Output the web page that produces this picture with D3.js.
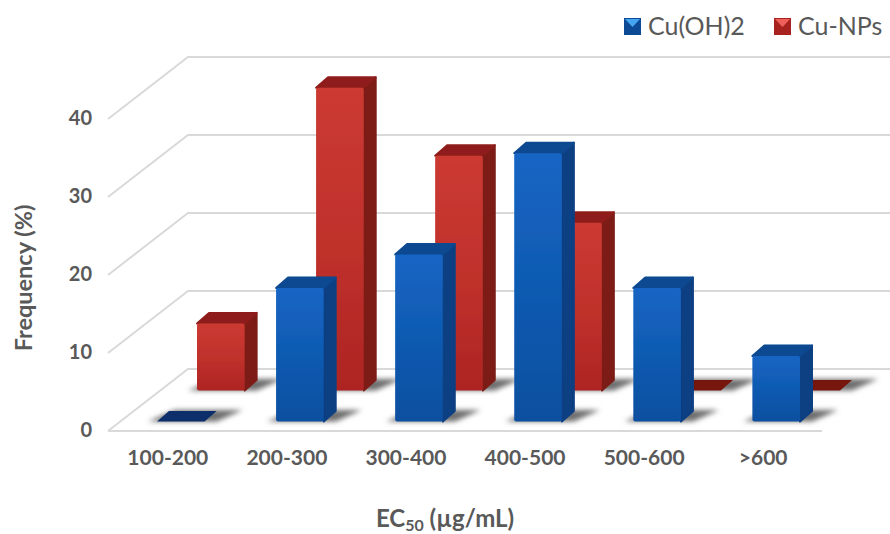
<!DOCTYPE html>
<html lang="en">
<head>
<meta charset="UTF-8">
<title>EC50 frequency</title>
<style>
  html, body { margin: 0; padding: 0; background: #fff; }
  svg { display: block; }
  text { font-family: Lato, "Open Sans", sans-serif; }
  .tick text { font-weight: bold; fill: #595959; }
</style>
</head>
<body>
<div id="chart"></div>
<script src="https://d3js.org/d3.v7.min.js"></script>
<script>
// values
var categories = ["100-200", "200-300", "300-400", "400-500", "500-600", ">600"];
var cuOH2 = [0, 17.1, 21.4, 34.4, 17.1, 8.4];
var cuNPs = [8.6, 38.8, 30.1, 21.5, 0, 0];
var yTicks = [0, 10, 20, 30, 40];

var width = 890, height = 534;

var svg = d3.select("#chart").append("svg")
    .attr("width", width)
    .attr("height", height);

// x scale gives the front face of the front row, y scale is the front plane of the floor
var x = d3.scaleBand().domain(categories).range([157, 800]).paddingInner(0.6).paddingOuter(0);
var y = d3.scaleLinear().domain([0, 40]).range([431, 119]);

// shift from front plane to back wall
var wallDx = 80, wallDy = -62;
var wallRight = 890, floorRight = 822;
// bar depth
var depthX = 12, depthY = -10.5;

var defs = svg.append("defs");
defs.append("filter").attr("id", "shadowBlur")
    .attr("x", "-30%").attr("y", "-80%").attr("width", "160%").attr("height", "260%")
  .append("feGaussianBlur").attr("stdDeviation", 2.4);
defs.append("filter").attr("id", "soft")
    .attr("x", "-5%").attr("y", "-5%").attr("width", "110%").attr("height", "110%")
  .append("feGaussianBlur").attr("stdDeviation", 0.7);

function frontGradient(id, stops) {
  var g = defs.append("linearGradient").attr("id", id)
      .attr("x1", 0).attr("y1", 0).attr("x2", 0).attr("y2", 1);
  stops.forEach(function(s) {
    g.append("stop").attr("offset", s[0]).attr("stop-color", s[1]);
  });
}
frontGradient("blueFront", [[0, "#1565c4"], [0.6, "#0f58ae"], [1, "#0d4f9f"]]);
frontGradient("redFront", [[0, "#cc3a32"], [0.6, "#bd2f2b"], [1, "#ad2422"]]);

var series = [
  { name: "Cu-NPs", values: cuNPs, dx: 40, dy: -40.5, front: "url(#redFront)", side: "#7d1f18", top: "#8f1f1a", flat: "#76130f", light: "#f0605a", base: "#a82320" },
  { name: "Cu(OH)2", values: cuOH2, dx: 0, dy: -9.5, front: "url(#blueFront)", side: "#0b3f82", top: "#0c4890", flat: "#0a2f6a", light: "#45a5f0", base: "#0d4a96" }
];

// back wall, left side wall and floor lines
var grid = svg.append("g")
    .attr("fill", "none")
    .attr("stroke", "#d9d9d9")
    .attr("stroke-width", 2);
yTicks.forEach(function(t) {
  grid.append("path").attr("d", d3.line()([
    [x.range()[0] - 49, y(t)],
    [x.range()[0] - 49 + wallDx, y(t) + wallDy],
    [wallRight, y(t) + wallDy]
  ]));
});
grid.append("line")
    .attr("x1", 108).attr("y1", y(0))
    .attr("x2", floorRight).attr("y2", y(0));

function poly(pts) { return pts.map(function(p) { return p.join(","); }).join(" "); }

// back row first so the front row sits over it
series.forEach(function(s) {
  var row = svg.append("g").attr("transform", "translate(" + s.dx + "," + s.dy + ")");
  var w = x.bandwidth();
  var base = y(0);

  categories.forEach(function(c, i) {
    var left = x(c), right = left + w;
    var v = s.values[i];
    var topY = y(v);

    // floor shadow
    row.append("polygon")
        .attr("points", poly([
          [left - 9, base], [right + 12, base],
          [right + depthX + 26, base + depthY - 1], [left + depthX + 6, base + depthY - 1]
        ]))
        .attr("fill", "#6e6e6e")
        .attr("filter", "url(#shadowBlur)");

    if (v === 0) {
      row.append("polygon")
          .attr("points", poly([
            [left, base], [right, base],
            [right + depthX, base + depthY], [left + depthX, base + depthY]
          ]))
          .attr("fill", s.flat)
          .attr("filter", "url(#soft)");
      return;
    }

    var bar = row.append("g").attr("filter", "url(#soft)")
        .attr("stroke-linejoin", "round").attr("stroke-width", 2);
    // right side
    bar.append("polygon")
        .attr("points", poly([
          [right, topY], [right + depthX, topY + depthY],
          [right + depthX, base + depthY], [right, base]
        ]))
        .attr("fill", s.side).attr("stroke", s.side);
    // top
    bar.append("polygon")
        .attr("points", poly([
          [left, topY], [left + depthX, topY + depthY],
          [right + depthX, topY + depthY], [right, topY]
        ]))
        .attr("fill", s.top).attr("stroke", s.top);
    // front
    bar.append("rect")
        .attr("x", left).attr("y", topY)
        .attr("width", w).attr("height", base - topY)
        .attr("rx", 2)
        .attr("fill", s.front);
  });
});

// axes
var yAxis = svg.append("g")
    .attr("transform", "translate(92,-1)")
    .call(d3.axisLeft(y).tickValues(yTicks).tickSize(0).tickPadding(0).tickFormat(d3.format("d")));
yAxis.select(".domain").remove();
yAxis.selectAll("text").style("font-size", "20px");

var xAxis = svg.append("g")
    .attr("transform", "translate(-13,450)")
    .call(d3.axisBottom(x).tickSize(0).tickPadding(0));
xAxis.select(".domain").remove();
xAxis.selectAll("text").style("font-size", "21px");

// axis titles
svg.append("text")
    .attr("transform", "translate(32,278) rotate(-90)")
    .attr("text-anchor", "middle")
    .attr("font-size", 23.5)
    .attr("font-weight", "bold")
    .attr("fill", "#595959")
    .text("Frequency (%)");

var xTitle = svg.append("text")
    .attr("x", 445).attr("y", 527)
    .attr("text-anchor", "middle")
    .attr("font-size", 24)
    .attr("font-weight", "bold")
    .attr("fill", "#595959");
xTitle.append("tspan").text("EC");
xTitle.append("tspan").attr("font-size", 16).attr("dy", 4).text("50");
xTitle.append("tspan").attr("dy", -4).text(" (µg/mL)");

// legend
var legendItems = [
  { s: series[1], x: 624 },
  { s: series[0], x: 774 }
];
legendItems.forEach(function(d) {
  var g = svg.append("g").attr("transform", "translate(" + d.x + ",18)");
  g.append("rect").attr("width", 17).attr("height", 17).attr("fill", d.s.base);
  g.append("polygon").attr("points", "1,1 16,1 8.5,9").attr("fill", d.s.light);
  g.append("text")
      .attr("x", 24).attr("y", 16.5)
      .attr("font-size", 25)
      .attr("fill", "#595959")
      .text(d.s.name);
});
</script>
</body>
</html>
